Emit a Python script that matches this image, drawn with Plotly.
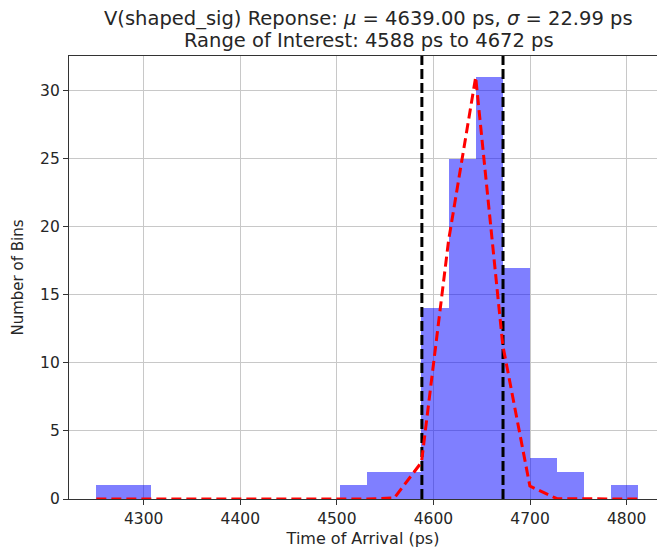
import plotly.graph_objects as go

# ---- data ----
bin_start = 4251.0
bin_width = 28.05
counts = [1, 1, 0, 0, 0, 0, 0, 0, 0, 1, 2, 2, 14, 25, 31, 17, 3, 2, 0, 1]
# fitted curve values sampled at the bin edges (21 points)
fit_values = [0, 0, 0, 0, 0, 0, 0, 0, 0, 0, 0.0, 0.08, 2.7, 19.0, 31.0, 11.3, 0.95, 0.02, 0, 0, 0]
roi_bounds = [4588, 4672]
mu = 4639.00
sigma = 22.99
x_ticks = [4300, 4400, 4500, 4600, 4700, 4800]
y_ticks = [0, 5, 10, 15, 20, 25, 30]

edges = [bin_start + i * bin_width for i in range(len(counts) + 1)]
centers = [(edges[i] + edges[i + 1]) / 2 for i in range(len(counts))]

FONT = "DejaVu Sans"
TXT = "#262626"

fig = go.Figure()
fig.add_trace(go.Bar(
    x=centers, y=counts, width=bin_width,
    marker=dict(color="rgba(0,0,255,0.5)", line=dict(width=0)),
    showlegend=False, hoverinfo="skip",
))
for xb in roi_bounds:
    fig.add_trace(go.Scatter(
        x=[xb, xb], y=[0, 32.55], mode="lines",
        line=dict(color="black", width=3, dash="10px,4px"),
        showlegend=False, hoverinfo="skip",
    ))
fig.add_trace(go.Scatter(
    x=edges, y=fit_values, mode="lines",
    line=dict(color="red", width=3, dash="10px,5px"),
    showlegend=False, hoverinfo="skip",
))

title1 = f"V(shaped_sig) Reponse: <i>μ</i> = {mu:.2f} ps, <i>σ</i> = {sigma:.2f} ps"
title2 = f"Range of Interest: {roi_bounds[0]} ps to {roi_bounds[1]} ps"

fig.update_layout(
    width=657, height=552,
    margin=dict(l=69, r=0, t=56, b=53),
    paper_bgcolor="white", plot_bgcolor="white",
    font=dict(family=FONT, color=TXT, size=16),
    bargap=0,
)
for txt, yy in [(title1, 1.0846), (title2, 1.035)]:
    fig.add_annotation(text=txt, xref="paper", yref="paper", x=0.51, y=yy,
                       xanchor="center", yanchor="middle", showarrow=False,
                       font=dict(size=19.5, family=FONT, color=TXT))

fig.update_xaxes(
    range=[4222.7, 4831.4], tickvals=x_ticks, ticktext=[str(v) for v in x_ticks],
    showgrid=True, gridcolor="#c8c8c8", gridwidth=1,
    showline=True, linecolor="#333", linewidth=1.2, mirror=True,
    ticks="outside", ticklen=5, tickcolor="#333",
    tickfont=dict(size=15.5, family=FONT, color=TXT),
    title=dict(text="Time of Arrival (ps)", font=dict(size=16, family=FONT, color=TXT), standoff=6),
    zeroline=False,
)
fig.update_yaxes(
    range=[0, 32.55], tickvals=y_ticks, ticktext=[str(v) for v in y_ticks],
    showgrid=True, gridcolor="#c8c8c8", gridwidth=1,
    showline=True, linecolor="#333", linewidth=1.2,
    ticks="outside", ticklen=5, tickcolor="#333",
    tickfont=dict(size=15.5, family=FONT, color=TXT),
    title=dict(text="Number of Bins", font=dict(size=15, family=FONT, color=TXT), standoff=12),
    zeroline=False,
)

fig.write_html("out.html")
